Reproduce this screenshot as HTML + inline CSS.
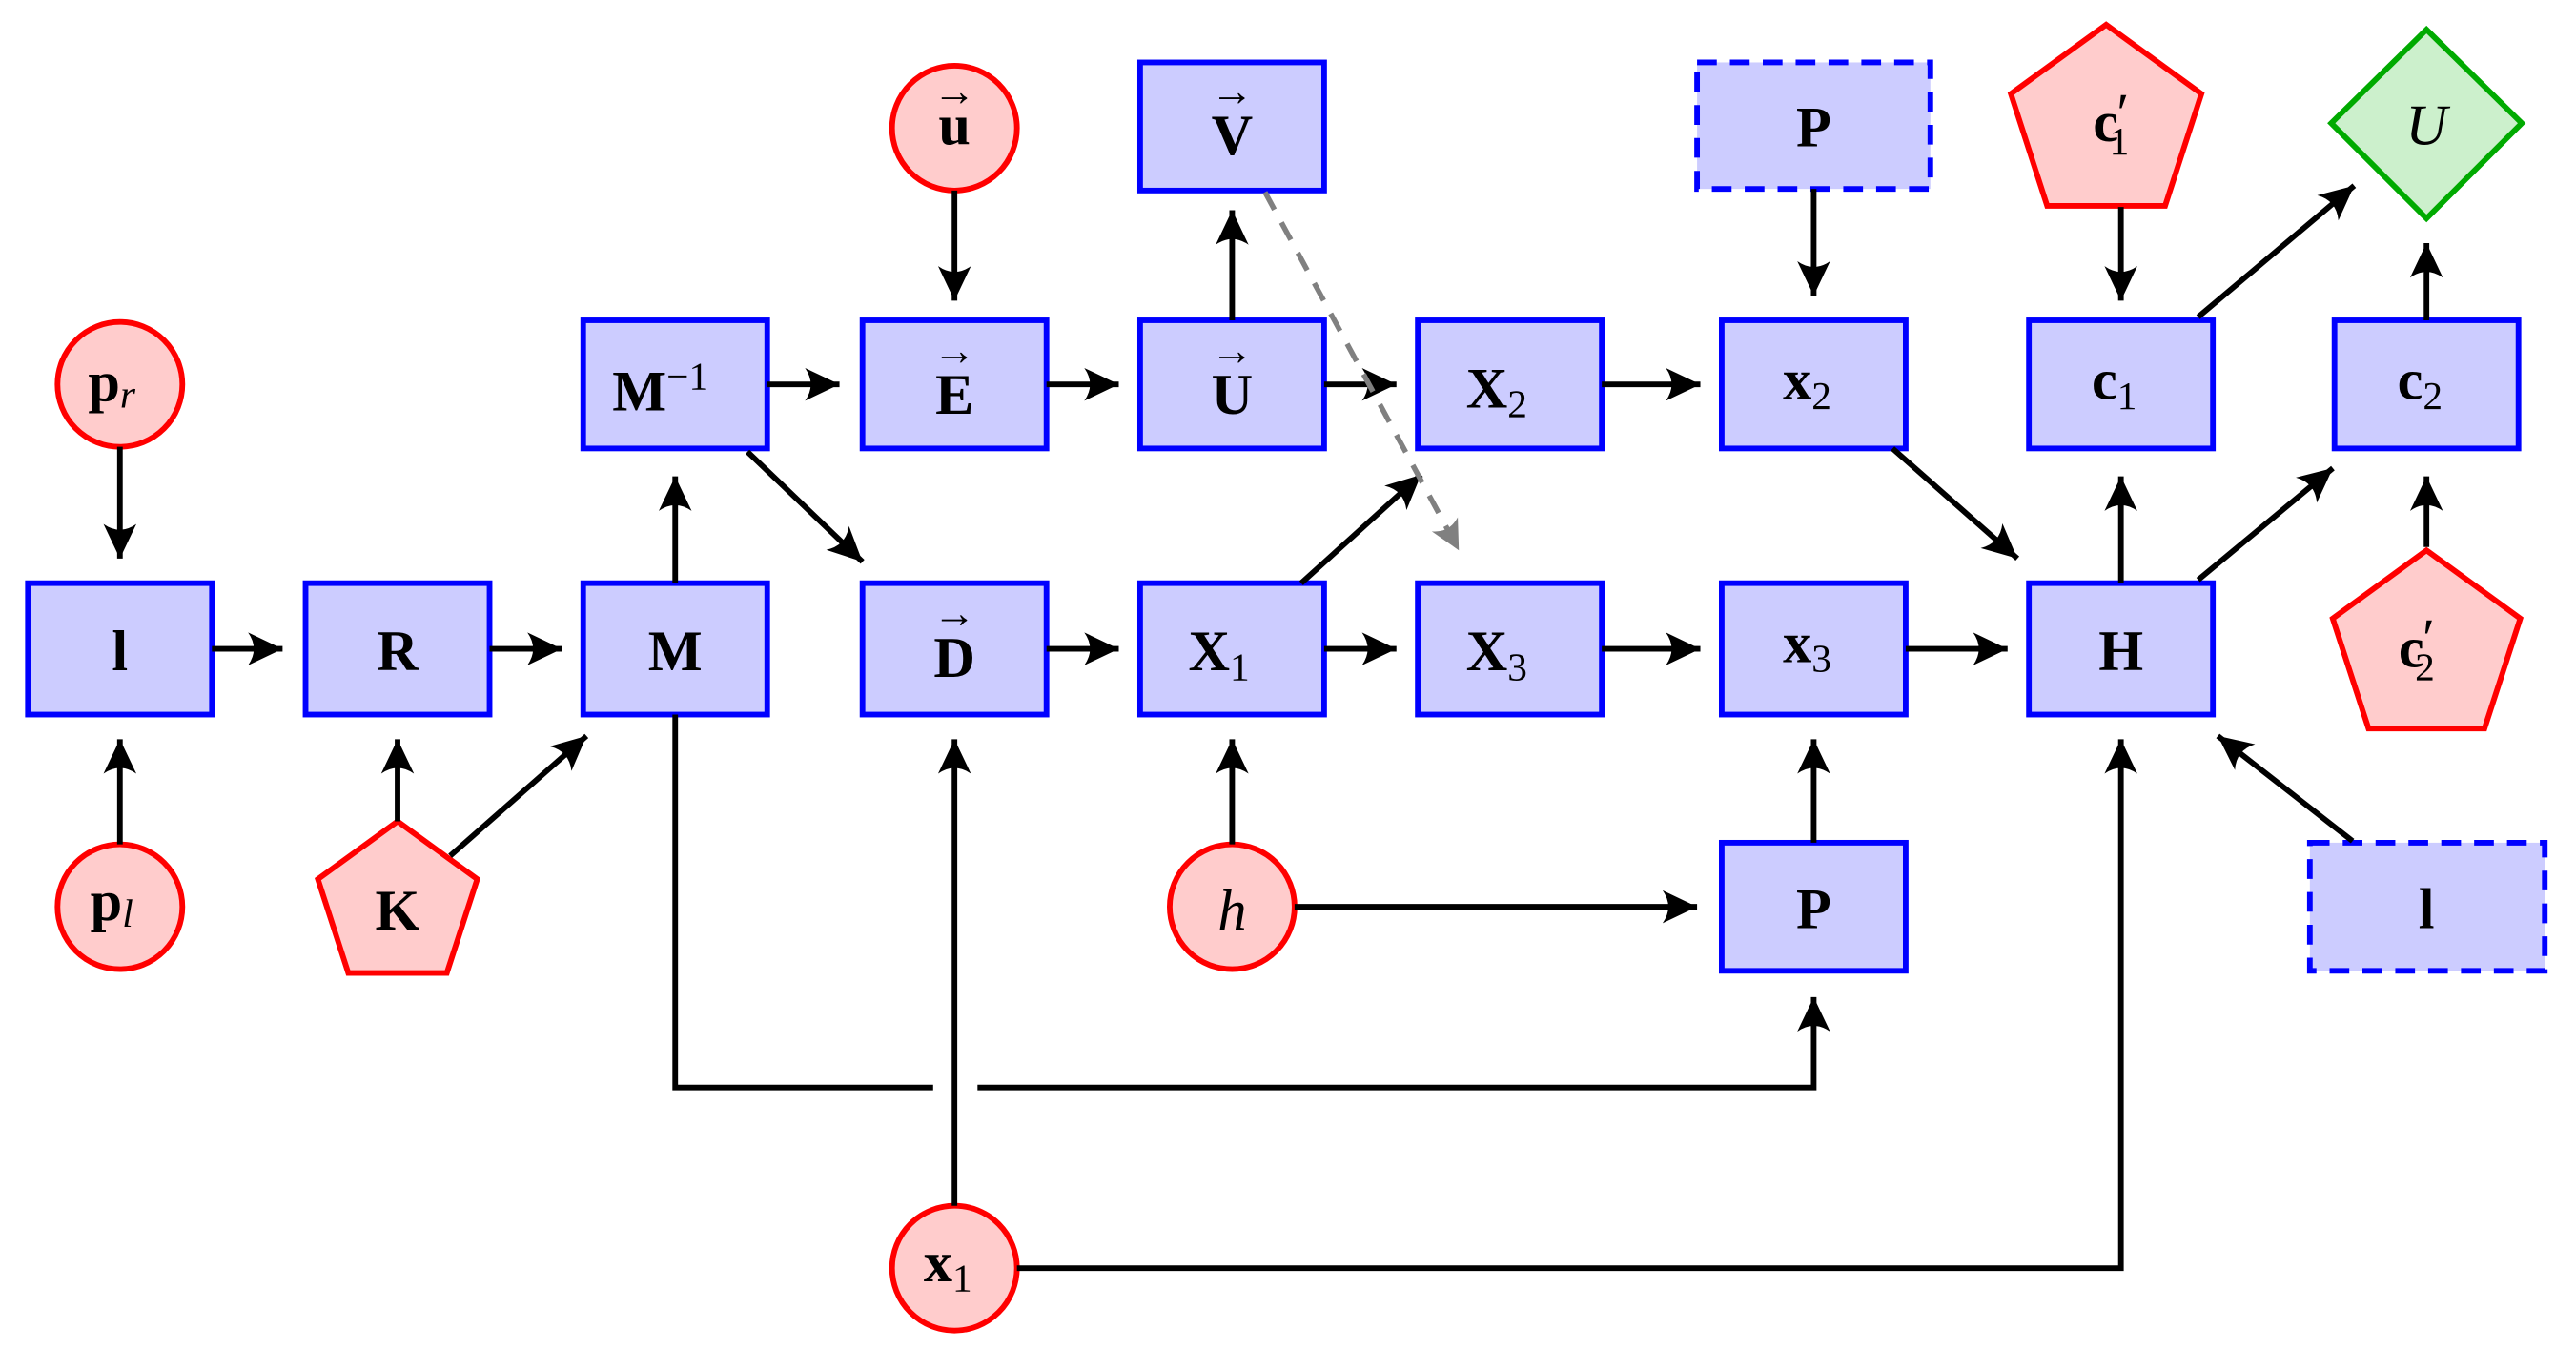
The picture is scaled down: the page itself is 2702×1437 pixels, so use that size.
<!DOCTYPE html>
<html><head><meta charset="utf-8"><style>html,body{margin:0;padding:0;background:#fff}svg{display:block}</style></head>
<body>
<svg width="2702" height="1437" viewBox="0 0 1568 834" preserveAspectRatio="none" xmlns="http://www.w3.org/2000/svg">
<defs>
<marker id="a" markerUnits="userSpaceOnUse" markerWidth="26" markerHeight="22" viewBox="-22 -11 24 22" refX="0" refY="0" orient="auto">
<path d="M0,0 L-21,-10 Q-14,0 -21,10 Z" fill="#000"/></marker>
<marker id="g" markerUnits="userSpaceOnUse" markerWidth="24" markerHeight="20" viewBox="-20 -10 22 20" refX="0" refY="0" orient="auto">
<path d="M0,0 L-18,-9 Q-12,0 -18,9 Z" fill="#808080"/></marker>
</defs>
<g fill="#ccccff" stroke="#0000ff" stroke-width="3.4">
<rect x="17" y="355" width="112" height="80"/>
<rect x="186" y="355" width="112" height="80"/>
<rect x="355" y="355" width="112" height="80"/>
<rect x="355" y="195" width="112" height="78"/>
<rect x="525" y="195" width="112" height="78"/>
<rect x="525" y="355" width="112" height="80"/>
<rect x="694" y="195" width="112" height="78"/>
<rect x="694" y="38" width="112" height="78"/>
<rect x="694" y="355" width="112" height="80"/>
<rect x="863" y="195" width="112" height="78"/>
<rect x="863" y="355" width="112" height="80"/>
<rect x="1048" y="195" width="112" height="78"/>
<rect x="1048" y="355" width="112" height="80"/>
<rect x="1048" y="513" width="112" height="78"/>
<rect x="1235" y="195" width="112" height="78"/>
<rect x="1235" y="355" width="112" height="80"/>
<rect x="1421" y="195" width="112" height="78"/>
<rect x="1033" y="38" width="142" height="77" stroke-dasharray="12,8"/>
<rect x="1406" y="513" width="143" height="78" stroke-dasharray="12,8"/>
</g>
<g fill="#ffcccc" stroke="#ff0000" stroke-width="3.4">
<circle cx="581" cy="78" r="38"/>
<circle cx="73" cy="234" r="38"/>
<circle cx="73" cy="552" r="38"/>
<circle cx="750" cy="552" r="38"/>
<circle cx="581" cy="772" r="38"/>
<polygon points="242,500 290.5,535.2 272,592.3 212,592.3 193.5,535.2"/>
<polygon points="1282,15 1340,57.1 1317.9,125.3 1246.1,125.3 1224,57.1"/>
<polygon points="1477,335 1534.1,376.5 1512.3,443.5 1441.7,443.5 1419.9,376.5"/>
</g>
<polygon points="1477,18 1535,75 1477,133 1419,75" fill="#ccf0cc" stroke="#00aa00" stroke-width="3.4"/>
<g stroke="#000" stroke-width="3.4" fill="none" marker-end="url(#a)">
<line x1="73" y1="272" x2="73" y2="340"/>
<line x1="73" y1="514" x2="73" y2="450"/>
<line x1="129" y1="395" x2="172" y2="395"/>
<line x1="298" y1="395" x2="342" y2="395"/>
<line x1="242" y1="500" x2="242" y2="450"/>
<line x1="274" y1="521" x2="357" y2="448"/>
<line x1="411" y1="355" x2="411" y2="290"/>
<line x1="467" y1="234" x2="511" y2="234"/>
<line x1="455" y1="275" x2="525" y2="342"/>
<line x1="581" y1="116" x2="581" y2="183"/>
<line x1="637" y1="234" x2="681" y2="234"/>
<line x1="750" y1="195" x2="750" y2="128"/>
<line x1="806" y1="234" x2="850" y2="234"/>
<line x1="975" y1="234" x2="1035" y2="234"/>
<line x1="1104" y1="115" x2="1104" y2="180"/>
<line x1="1152" y1="273" x2="1228" y2="340"/>
<line x1="637" y1="395" x2="681" y2="395"/>
<line x1="792" y1="355" x2="865" y2="289"/>
<line x1="806" y1="395" x2="850" y2="395"/>
<line x1="975" y1="395" x2="1035" y2="395"/>
<line x1="1160" y1="395" x2="1222" y2="395"/>
<line x1="1104" y1="513" x2="1104" y2="450"/>
<line x1="750" y1="514" x2="750" y2="450"/>
<line x1="788" y1="552" x2="1033" y2="552"/>
<polyline points="595,662 1104,662 1104,607"/>
<line x1="581" y1="734" x2="581" y2="450"/>
<polyline points="619,772 1291,772 1291,450"/>
<line x1="1291" y1="355" x2="1291" y2="290"/>
<line x1="1291" y1="126" x2="1291" y2="183"/>
<line x1="1338" y1="193" x2="1433" y2="113"/>
<line x1="1338" y1="353" x2="1420" y2="285"/>
<line x1="1477" y1="333" x2="1477" y2="290"/>
<line x1="1477" y1="195" x2="1477" y2="148"/>
<line x1="1432" y1="512" x2="1350" y2="448"/>
</g>
<polyline points="411,435 411,662 568,662" stroke="#000" stroke-width="3.4" fill="none"/>
<line x1="770" y1="117" x2="888" y2="335" stroke="#808080" stroke-width="3.2" stroke-dasharray="12,9" marker-end="url(#g)"/>
<g font-family="Liberation Serif, serif" font-weight="bold" font-size="35" text-anchor="middle" fill="#000">
<text x="73" y="408">l</text>
<text x="242" y="408">R</text>
<text x="411" y="408">M</text>
<text x="402" y="250">M<tspan font-weight="normal" font-size="24" dy="-13">−1</tspan></text>
<text x="581" y="252">E</text><text x="581" y="222" font-size="26" font-weight="normal">→</text>
<text x="581" y="412">D</text><text x="581" y="382" font-size="26" font-weight="normal">→</text>
<text x="750" y="252">U</text><text x="750" y="222" font-size="26" font-weight="normal">→</text>
<text x="750" y="94">V</text><text x="750" y="64" font-size="26" font-weight="normal">→</text>
<text x="742" y="408">X<tspan font-weight="normal" font-size="24" dy="6">1</tspan></text>
<text x="911" y="248">X<tspan font-weight="normal" font-size="24" dy="6">2</tspan></text>
<text x="911" y="408">X<tspan font-weight="normal" font-size="24" dy="6">3</tspan></text>
<text x="1100" y="243">x<tspan font-weight="normal" font-size="24" dy="6">2</tspan></text>
<text x="1100" y="403">x<tspan font-weight="normal" font-size="24" dy="6">3</tspan></text>
<text x="1104" y="565">P</text>
<text x="1104" y="89">P</text>
<text x="1287" y="243">c<tspan font-weight="normal" font-size="24" dy="6">1</tspan></text>
<text x="1473" y="243">c<tspan font-weight="normal" font-size="24" dy="6">2</tspan></text>
<text x="1291" y="408">H</text>
<text x="1477" y="565">l</text>
<text x="581" y="88">u</text><text x="581" y="64" font-size="26" font-weight="normal">→</text>
<text x="68" y="244">p<tspan font-weight="normal" font-style="italic" font-size="24" dy="4">r</tspan></text>
<text x="68" y="560">p<tspan font-weight="normal" font-style="italic" font-size="24" dy="4">l</tspan></text>
<text x="242" y="566">K</text>
<text x="577" y="780">x<tspan font-weight="normal" font-size="24" dy="6">1</tspan></text>
<text x="1285" y="86">c<tspan font-weight="normal" font-size="34" dx="-1" dy="-6">′</tspan><tspan font-weight="normal" font-size="24" dx="-12" dy="14">1</tspan></text>
<text x="1471" y="406">c<tspan font-weight="normal" font-size="34" dx="-1" dy="-6">′</tspan><tspan font-weight="normal" font-size="24" dx="-12" dy="14">2</tspan></text>
<text x="750" y="566" font-weight="normal" font-style="italic">h</text>
<text x="1477" y="88" font-weight="normal" font-style="italic">U</text>
</g>
</svg>
</body></html>
